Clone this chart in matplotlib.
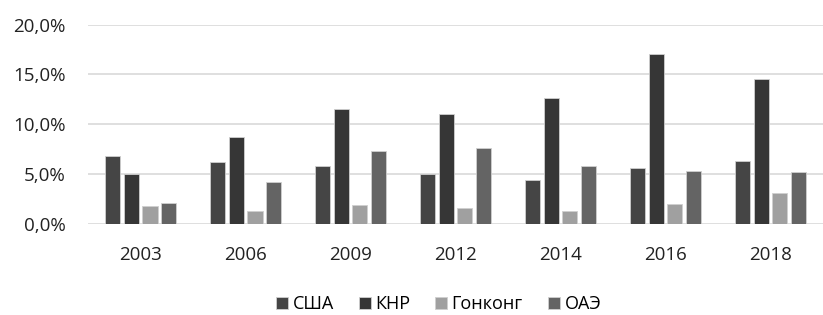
import matplotlib
matplotlib.use('Agg')
import matplotlib.pyplot as plt
from matplotlib.ticker import FuncFormatter
import numpy as np

years = ['2003', '2006', '2009', '2012', '2014', '2016', '2018']
series_names = ['США', 'КНР', 'Гонконг', 'ОАЭ']
usa = [6.8, 6.2, 5.8, 5.0, 4.4, 5.6, 6.3]
china = [5.0, 8.7, 11.5, 11.0, 12.6, 17.0, 14.5]
hongkong = [1.8, 1.3, 1.9, 1.6, 1.3, 2.0, 3.1]
uae = [2.1, 4.2, 7.3, 7.6, 5.8, 5.3, 5.2]
colors = ['#454545', '#363636', '#a0a0a0', '#646464']

plt.rcParams['font.family'] = ['Open Sans', 'DejaVu Sans']

fig = plt.figure(figsize=(8.23, 3.15), dpi=100)
ax = fig.add_axes([0.107, 0.289, 0.893, 0.633])

x = np.arange(len(years))
width = 0.143
step = 0.18
for i, (vals, name) in enumerate(zip([usa, china, hongkong, uae], series_names)):
    ax.bar(x + (i - 1.5) * step, vals, width, color=colors[i], label=name,
           edgecolor='#cfcfcf', linewidth=0.6, zorder=3)

ax.set_xlim(-0.5, len(years) - 0.5)
ax.set_ylim(0, 20)
ax.set_yticks([0, 5, 10, 15, 20])
ax.yaxis.set_major_formatter(FuncFormatter(lambda v, p: f'{v:.1f}%'.replace('.', ',')))
ax.set_xticks(x)
ax.set_xticklabels(years)
ax.grid(axis='y', color='#d9d9d9', linewidth=1.2, zorder=0)
for s in ax.spines.values():
    s.set_visible(False)
ax.tick_params(length=0, labelsize=13.5, colors='#222222')
ax.tick_params(axis='x', pad=16)
ax.tick_params(axis='y', pad=16)

fig.legend(loc='center', bbox_to_anchor=(0.533, 0.035), ncol=4, frameon=False,
           fontsize=13, handlelength=0.65, handleheight=0.65, handletextpad=0.25,
           columnspacing=1.4)

fig.savefig('out.png', dpi=100)
